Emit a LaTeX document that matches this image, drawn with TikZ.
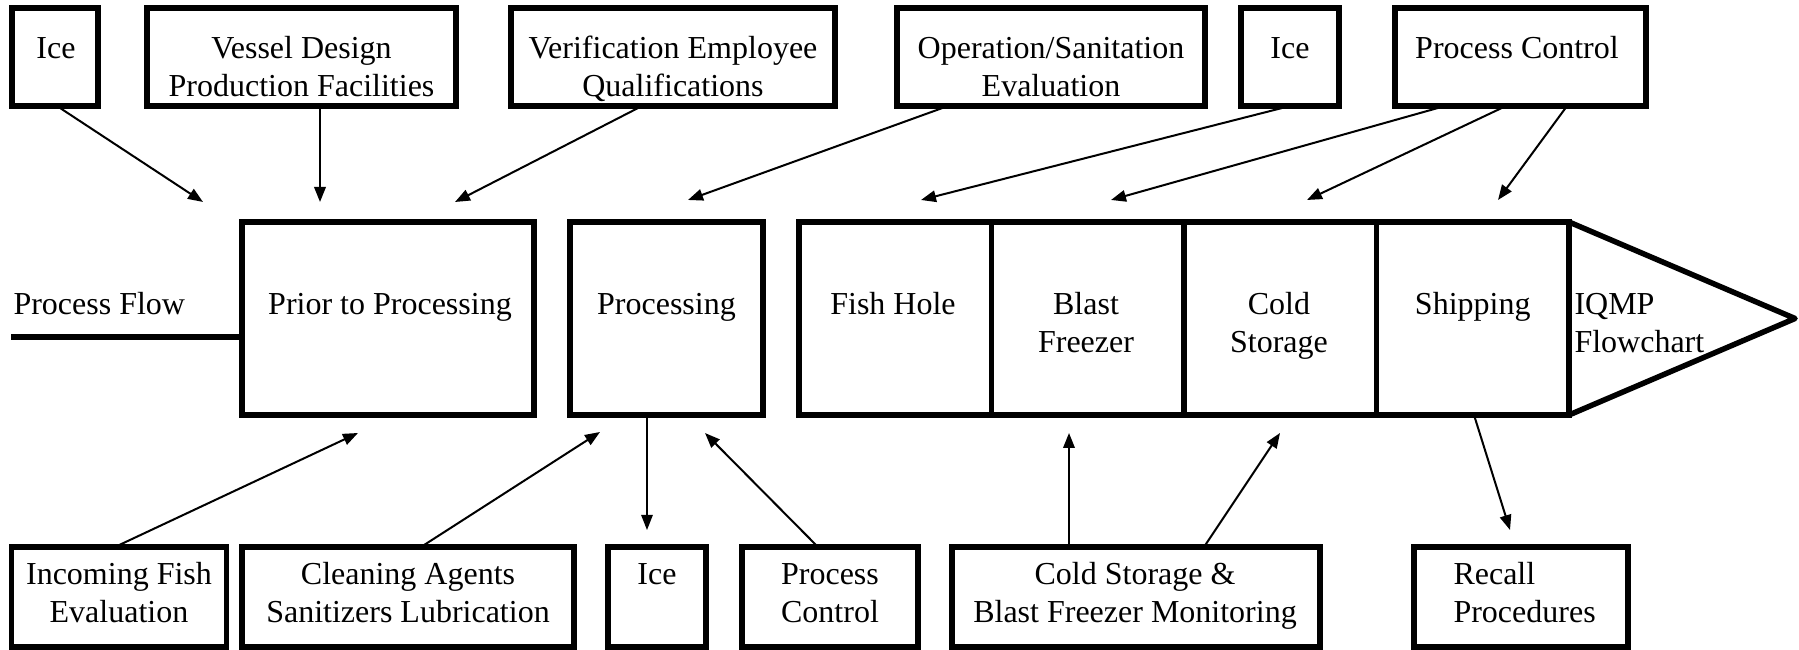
\documentclass[tikz,border=0pt]{standalone}
\usepackage{fontspec}
\setmainfont{Liberation Serif}
\usetikzlibrary{arrows.meta,calc}
\begin{document}
\begin{tikzpicture}[x=0.4pt,y=-0.4pt,
  box/.style={draw, line width=2.2pt, inner sep=0pt, outer sep=0pt},
  topbox/.style={box, minimum height=98*0.4pt},
  midbox/.style={box, minimum height=193*0.4pt},
  botbox/.style={box, minimum height=100*0.4pt},
  txt/.style={font=\fontsize{12.8}{15.2}\selectfont, align=center, inner sep=0pt},
  ltxt/.style={txt, align=left, anchor=west},
  arr/.style={-{Triangle[length=6pt,width=4.6pt]}, line width=0.8pt},
  thinarr/.style={arr, line width=0.5pt}]
\useasboundingbox (0,0) rectangle (1799,650);

% ---- top row
\node[topbox, minimum width=86*0.4pt]  (ice1)   at (55,57) {};
\node[topbox, minimum width=309*0.4pt] (vessel) at (301.5,57) {};
\node[topbox, minimum width=324*0.4pt] (verif)  at (673,57) {};
\node[topbox, minimum width=308*0.4pt] (oper)   at (1051,57) {};
\node[topbox, minimum width=98*0.4pt]  (ice2)   at (1290,57) {};
\node[topbox, minimum width=251*0.4pt] (pc)     at (1520.5,57) {};
\node[txt] (ice1-t)   at (56,70.4) {\strut Ice\\\strut};
\node[txt] (vessel-t) at (301.5,70.4) {\strut Vessel Design\\\strut Production Facilities};
\node[txt] (verif-t)  at (673,70.4) {\strut Verification Employee\\\strut Qualifications};
\node[txt] (oper-t)   at (1051,70.4) {\strut Operation/Sanitation\\\strut Evaluation};
\node[txt] (ice2-t)   at (1290,70.4) {\strut Ice\\\strut};
\node[txt] (pc-t)     at (1517,70.4) {\strut Process Control\\\strut};

% ---- main row
\node[txt, anchor=base west] (flow-t) at (13,315) {Process Flow};
\node[midbox, minimum width=292*0.4pt]   (prior) at (388,318.5) {};
\node[midbox, minimum width=193*0.4pt]   (proc)  at (666.5,318.5) {};
\node[midbox, minimum width=192.5*0.4pt] (fish)  at (895.25,318.5) {};
\node[midbox, minimum width=192.5*0.4pt] (blast) at (1087.75,318.5) {};
\node[midbox, minimum width=192.5*0.4pt] (cold)  at (1280.25,318.5) {};
\node[midbox, minimum width=192.5*0.4pt] (ship)  at (1472.75,318.5) {};
\coordinate (tip) at (1795,318.5);
\draw[line width=2.2pt, line join=round] (ship.north east) -- (tip) -- (ship.south east);
\coordinate (flow0) at (11,337);
\draw[line width=2.2pt] (flow0) -- (flow0 -| prior.west);

\node[txt] (prior-t) at (390,326.4) {\strut Prior to Processing\\\strut};
\node[txt] (proc-t)  at (666.5,326.4) {\strut Processing\\\strut};
\node[txt] (fish-t)  at (893,326.4) {\strut Fish Hole\\\strut};
\node[txt] (blast-t) at (1086,326.4) {\strut Blast\\\strut Freezer};
\node[txt] (cold-t)  at (1279,326.4) {\strut Cold\\\strut Storage};
\node[txt] (ship-t)  at (1472.75,326.4) {\strut Shipping\\\strut};
\node[ltxt] (iqmp-t) at (1574,326.4) {\strut IQMP\\\strut Flowchart};

% ---- bottom row
\node[botbox, minimum width=215*0.4pt] (incoming) at (119,597) {};
\node[botbox, minimum width=332*0.4pt] (cleaning) at (408,597) {};
\node[botbox, minimum width=98*0.4pt]  (ice3)     at (657,597) {};
\node[botbox, minimum width=176*0.4pt] (pcb)      at (830,597) {};
\node[botbox, minimum width=368*0.4pt] (cs)       at (1136,597) {};
\node[botbox, minimum width=214*0.4pt] (recall)   at (1521,597) {};
\node[txt] (incoming-t) at (119,596.4) {\strut Incoming Fish\\\strut Evaluation};
\node[txt] (cleaning-t) at (408,596.4) {\strut Cleaning Agents\\\strut Sanitizers Lubrication};
\node[txt] (ice3-t)     at (657,596.4) {\strut Ice\\\strut};
\node[txt] (pcb-t)      at (830,596.4) {\strut Process\\\strut Control};
\node[txt] (cs-t)       at (1135,596.4) {\strut Cold Storage \&\\\strut Blast Freezer Monitoring};
\node[ltxt] (recall-t)  at (1453,596.4) {\strut Recall\\\strut Procedures};

% ---- arrow end points
\coordinate (a1) at (203,202);
\coordinate (a2) at (320,202);
\coordinate (a3) at (455,202);
\coordinate (a4) at (688,200);
\coordinate (a5) at (921,200);
\coordinate (a6) at (1111,200);
\coordinate (a7) at (1307,200);
\coordinate (a8) at (1498,200);
\coordinate (b1) at (358,433);
\coordinate (b2) at (600,432);
\coordinate (b3) at (647,530);
\coordinate (b4) at (705,433);
\coordinate (b5) at (1069,433);
\coordinate (b6) at (1280,433);
\coordinate (b7) at (1510,530);

% ---- top arrows
\draw[arr] ([xshift=0.8pt]ice1.south) -- (a1);
\draw[arr] (vessel.south -| a2) -- (a2);
\draw[arr] ([xshift=-12.4pt]verif.south) -- (a3);
\draw[arr] ([xshift=-41.2pt]oper.south) -- (a4);
\draw[arr] (ice2.south) -- (a5);
\draw[arr] ([xshift=-30.2pt]pc.south) -- (a6);
\draw[arr] ([xshift=-5.8pt]pc.south) -- (a7);
\draw[arr] ([xshift=18.6pt]pc.south) -- (a8);

% ---- bottom arrows
\draw[arr] ([xshift=-1.6pt]incoming.north) -- (b1);
\draw[arr] ([xshift=5.2pt]cleaning.north) -- (b2);
\draw[thinarr] (proc.south -| b3) -- (b3);
\draw[arr] ([xshift=-4.8pt]pcb.north) -- (b4);
\draw[arr] (cs.north -| b5) -- (b5);
\draw[arr] ([xshift=27.2pt]cs.north) -- (b6);
\draw[arr] ([xshift=0.5pt]ship.south) -- (b7);
\end{tikzpicture}
\end{document}
